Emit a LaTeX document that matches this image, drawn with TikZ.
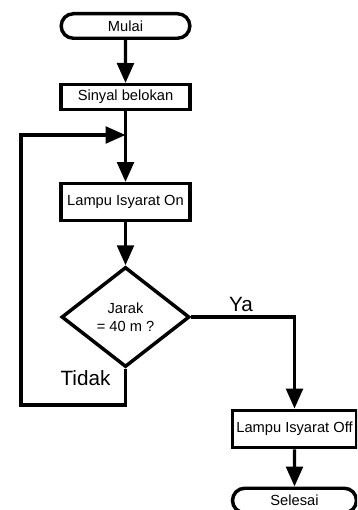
\documentclass[tikz,border=0pt]{standalone}
\usepackage{fontspec}
\setmainfont{Liberation Sans}
\usetikzlibrary{arrows.meta,shapes.misc,shapes.geometric}
\begin{document}
\begin{tikzpicture}[x=0.75pt,y=-0.75pt,
  lw/.style={line width=2.6pt},
  base/.style={lw,draw=black,inner sep=0pt,align=center,font=\fontsize{11}{13.5}\selectfont},
  term/.style={base,rounded rectangle,minimum width=96.5pt,minimum height=18.4pt},
  proc/.style={base,rectangle,minimum width=96.75pt},
  dec/.style={base,diamond,minimum width=96pt,minimum height=75pt},
  arr/.style={lw,-{Triangle[length=15pt,width=12.5pt]}},
  lbl/.style={font=\fontsize{15.5}{18}\selectfont,inner sep=0pt}]
\clip (0,0) rectangle (357,510);
\node[term] (mulai) at (125.5,26) {Mulai};
\node[proc,minimum height=18.4pt] (sinyal) at (125.5,97) {Sinyal belokan};
\node[proc,minimum height=27.4pt] (on) at (125.5,202) {Lampu Isyarat On};
\node[dec] (dia) at (125.5,317) {Jarak\\= 40 m ?};
\node[proc,minimum width=93pt,minimum height=28pt] (off) at (294.5,429) {Lampu Isyarat Off};
\node[term,minimum width=93pt] (sel) at (294.5,500.5) {Selesai};
\coordinate (j) at (125.5,135);
\coordinate (t1) at (125.5,405);
\coordinate (t2) at (21,405);
\coordinate (t3) at (21,135);
\node[lbl] (ya) at (241,304) {Ya};
\node[lbl] (tidak) at (85.5,378) {Tidak};
\draw[arr] (mulai) -- (sinyal);
\draw[arr] (sinyal) -- (on);
\draw[arr] (on) -- (dia);
\draw[arr] (dia.east) -- (dia.east -| off.north) -- (off.north);
\draw[arr] (dia.south) -- (t1) -- (t2) -- (t3) -- (j);
\draw[arr] (off) -- (sel);
\end{tikzpicture}
\end{document}
